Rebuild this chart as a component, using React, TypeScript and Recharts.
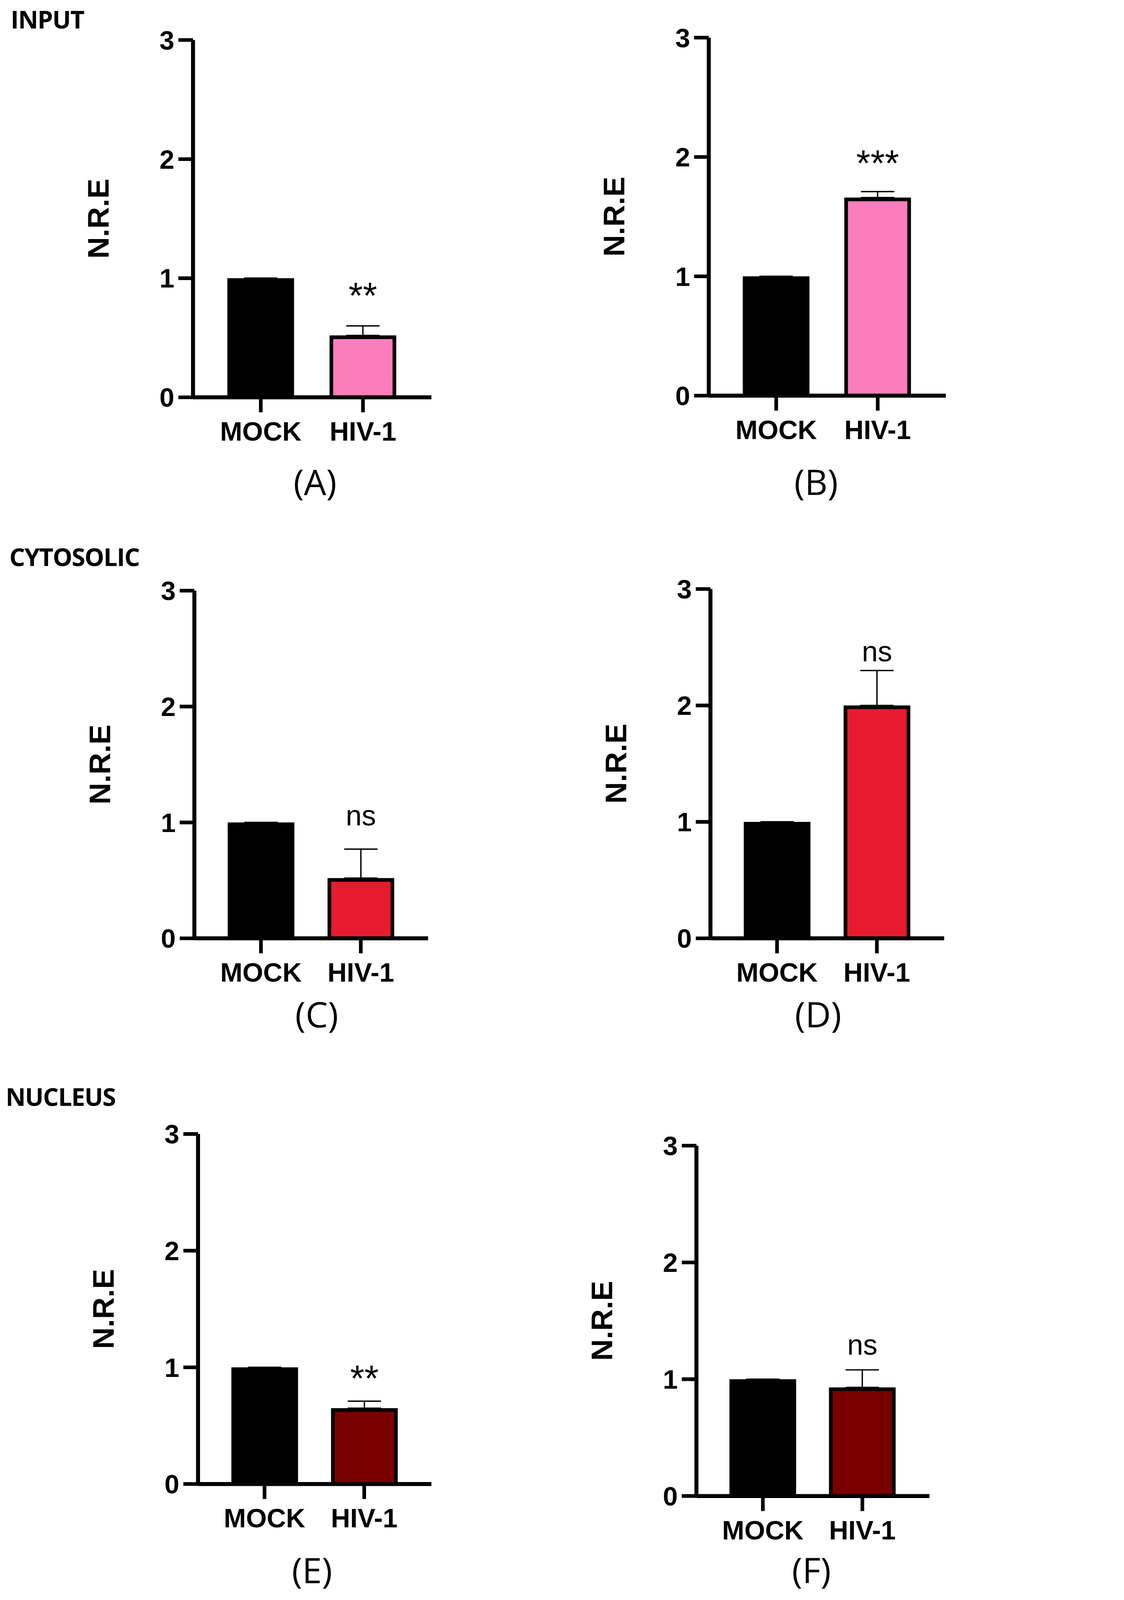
import React from 'react';
import { Bar, BarChart, ErrorBar, LabelList, XAxis, YAxis } from 'recharts';

// categories and values
const CATEGORIES = ['MOCK', 'HIV-1'];
const MOCK_MEANS = [1, 1, 1, 1, 1, 1];
const HIV_MEANS = [0.52, 1.66, 0.52, 2.0, 0.65, 0.93];
const HIV_ERRORS = [0.08, 0.05, 0.25, 0.3, 0.06, 0.15];
const SIGNIFICANCE = ['**', '***', 'ns', 'ns', '**', 'ns'];
const PANEL_LETTERS = ['(A)', '(B)', '(C)', '(D)', '(E)', '(F)'];
const SECTIONS = ['INPUT', 'CYTOSOLIC', 'NUCLEUS'];
const Y_TICKS = [0, 1, 2, 3];

// pink / red / dark red for the three fractions
const HIV_COLORS = ['#FB7DBC', '#FB7DBC', '#E81B2E', '#E81B2E', '#7A0000', '#7A0000'];

// plot boxes in figure pixels (2877 x 4800), one per panel
const LAYOUT = [
  { left: 579, top: 120, right: 1294, bottom: 1192, letterX: 945, letterY: 1485, sigGap: 53 },
  { left: 2126, top: 113, right: 2837, bottom: 1187, letterX: 2448, letterY: 1485, sigGap: 47 },
  { left: 583, top: 1772, right: 1284, bottom: 2815, letterX: 950, letterY: 3082, sigGap: 71 },
  { left: 2131, top: 1767, right: 2832, bottom: 2815, letterX: 2454, letterY: 3082, sigGap: 28 },
  { left: 594, top: 3402, right: 1294, bottom: 4452, letterX: 936, letterY: 4750, sigGap: 30 },
  { left: 2089, top: 3437, right: 2788, bottom: 4488, letterX: 2434, letterY: 4750, sigGap: 46 },
];
const SECTION_POS = [
  { x: 32, y: 86 },
  { x: 28, y: 1698 },
  { x: 17, y: 3317 },
];

const FIG_W = 2877;
const FIG_H = 4800;
// the browser viewport is only 4096 tall, so the whole figure is shrunk to fit
const VIEW_H = 4096;
const SCALE = VIEW_H / FIG_H;

const Y_AXIS_W = 420;
const LABEL_OFFSET = Y_AXIS_W - 285;
const TOP_PAD = 60;
const RIGHT_PAD = 20;
const X_AXIS_H = 170;
const AXIS_FONT = '"Liberation Sans", Arial, sans-serif';
const TITLE_FONT = '"Open Sans", sans-serif';
const BORDER = 11;
const AXIS_W = 12;
const TICK_W = 11;

function Panel({ i }: { i: number }) {
  const box = LAYOUT[i];
  const color = HIV_COLORS[i];
  const sig = SIGNIFICANCE[i];
  const mean = HIV_MEANS[i];
  const err = HIV_ERRORS[i];

  const data = CATEGORIES.map((name, k) => ({
    name,
    value: k === 0 ? MOCK_MEANS[i] : mean,
    err: k === 0 ? [0, 0] : [0, err],
    sig: k === 0 ? '' : sig,
  }));

  const width = box.right - box.left + Y_AXIS_W + RIGHT_PAD;
  const height = TOP_PAD + (box.bottom - box.top) + X_AXIS_H;

  const renderBar = (props: any) => {
    const { x, y, width: w, height: h, index } = props;
    if (index === 0) {
      return <rect x={x} y={y} width={w} height={h} fill="#000" />;
    }
    const half = BORDER / 2;
    return (
      <rect
        x={x + half}
        y={y + half}
        width={w - BORDER}
        height={h - half}
        fill={color}
        stroke="#000"
        strokeWidth={BORDER}
      />
    );
  };

  const renderSig = (props: any) => {
    const vb = props.viewBox ?? props;
    const x = props.x ?? vb.x;
    const y = props.y ?? vb.y;
    const w = props.width ?? vb.width;
    const h = props.height ?? vb.height;
    if (!props.value) return null;
    const errTop = y - (h * err) / mean;
    const isStars = String(props.value).startsWith('*');
    return (
      <text
        x={x + w / 2}
        y={errTop - box.sigGap}
        textAnchor="middle"
        fontFamily={AXIS_FONT}
        fontSize={isStars ? 110 : 86}
        fill="#000"
      >
        {props.value}
      </text>
    );
  };

  return (
    <div style={{ position: 'absolute', left: box.left - Y_AXIS_W, top: box.top - TOP_PAD }}>
      <BarChart
        width={width}
        height={height}
        data={data}
        margin={{ top: TOP_PAD, right: RIGHT_PAD, bottom: 0, left: 0 }}
      >
        <XAxis
          dataKey="name"
          height={X_AXIS_H}
          interval={0}
          padding={{ left: 50, right: 52 }}
          axisLine={{ stroke: '#000', strokeWidth: AXIS_W }}
          tickLine={{ stroke: '#000', strokeWidth: TICK_W }}
          tickSize={45}
          tickMargin={28}
          tick={{ fill: '#000', fontSize: 80, fontWeight: 700, fontFamily: AXIS_FONT }}
        />
        <YAxis
          width={Y_AXIS_W}
          domain={[0, 3]}
          ticks={Y_TICKS}
          interval={0}
          axisLine={{ stroke: '#000', strokeWidth: AXIS_W }}
          tickLine={{ stroke: '#000', strokeWidth: TICK_W }}
          tickSize={44}
          tickMargin={12}
          tick={{ fill: '#000', fontSize: 80, fontWeight: 700, fontFamily: AXIS_FONT }}
          label={{
            value: 'N.R.E',
            angle: -90,
            position: 'insideLeft',
            offset: LABEL_OFFSET,
            fill: '#000',
            fontSize: 90,
            fontWeight: 700,
            fontFamily: AXIS_FONT,
            style: { textAnchor: 'middle' },
          }}
        />
        <Bar dataKey="value" barSize={200} shape={renderBar} isAnimationActive={false}>
          <ErrorBar dataKey="err" width={50} strokeWidth={4} stroke="#000" isAnimationActive={false} />
          <LabelList dataKey="sig" content={renderSig} />
        </Bar>
      </BarChart>
    </div>
  );
}

export default function App() {
  return (
    <div
      style={{
        position: 'relative',
        margin: -8,
        width: FIG_W * SCALE,
        height: VIEW_H,
        overflow: 'hidden',
        background: '#fff',
      }}
    >
      <div
        style={{
          position: 'absolute',
          left: 0,
          top: 0,
          width: FIG_W,
          height: FIG_H,
          transform: `scale(${SCALE})`,
          transformOrigin: '0 0',
          background: '#fff',
        }}
      >
        {LAYOUT.map((_, i) => (
          <Panel key={i} i={i} />
        ))}
        <svg
          width={FIG_W}
          height={FIG_H}
          style={{ position: 'absolute', left: 0, top: 0, pointerEvents: 'none' }}
        >
          {SECTIONS.map((title, k) => (
            <text
              key={title}
              x={SECTION_POS[k].x}
              y={SECTION_POS[k].y}
              fontFamily={TITLE_FONT}
              fontWeight={700}
              fontSize={74}
              letterSpacing={-2}
              fill="#000"
            >
              {title}
            </text>
          ))}
          {PANEL_LETTERS.map((letter, i) => (
            <text
              key={letter}
              x={LAYOUT[i].letterX}
              y={LAYOUT[i].letterY}
              textAnchor="middle"
              fontFamily={TITLE_FONT}
              fontSize={106}
              fill="#000"
            >
              {letter}
            </text>
          ))}
        </svg>
      </div>
    </div>
  );
}
